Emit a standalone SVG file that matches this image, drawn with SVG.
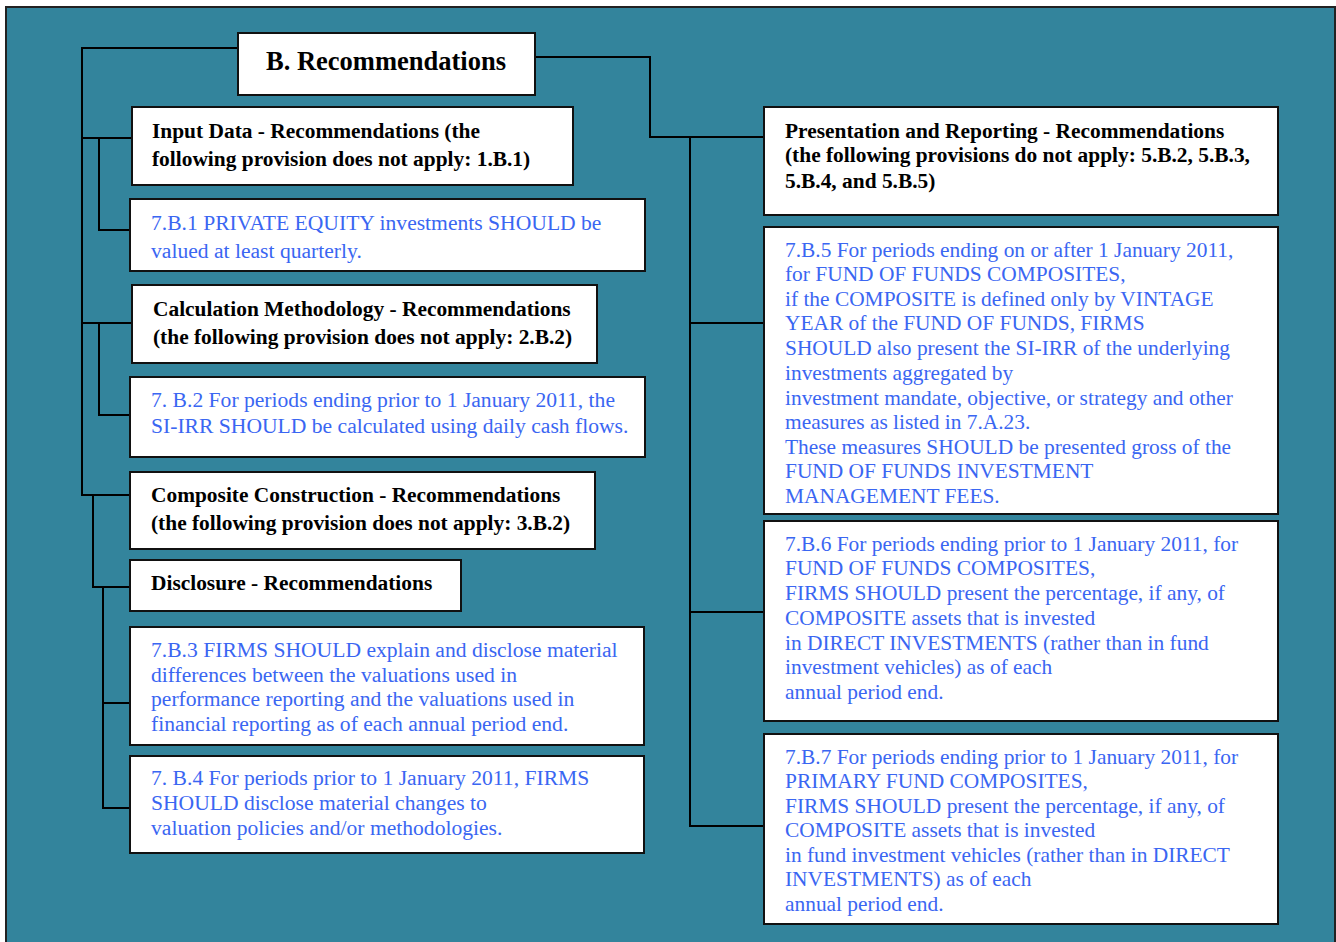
<svg xmlns="http://www.w3.org/2000/svg" width="1336" height="942" viewBox="0 0 1336 942">
<style>
.box{fill:#fff;stroke:#111;stroke-width:2}
.h{font-family:"Liberation Serif","Times New Roman",serif;font-weight:bold;font-size:21.4px;fill:#000}
.b{font-family:"Liberation Serif","Times New Roman",serif;font-size:21.6px;fill:#3a66f2}
.r{font-size:21.4px}
.c{fill:none;stroke:#000;stroke-width:2}
</style>
<rect x="0" y="0" width="1336" height="942" fill="#fff"/>
<rect x="6" y="7" width="1329" height="940" fill="#33849c" stroke="#222" stroke-width="2"/>
<g id="connectors">
<polyline class="c" points="238,48 82,48 82,495 130,495"/>
<line class="c" x1="82" y1="138" x2="132" y2="138"/>
<line class="c" x1="82" y1="323" x2="132" y2="323"/>
<polyline class="c" points="99,138 99,230 130,230"/>
<polyline class="c" points="99,323 99,415 130,415"/>
<polyline class="c" points="93,495 93,587 130,587"/>
<polyline class="c" points="103,587 103,808 130,808"/>
<line class="c" x1="103" y1="703" x2="130" y2="703"/>
<polyline class="c" points="535,57 650,57 650,137 764,137"/>
<polyline class="c" points="690,137 690,826 764,826"/>
<line class="c" x1="690" y1="323" x2="764" y2="323"/>
<line class="c" x1="690" y1="612" x2="764" y2="612"/>
</g>
<g id="root">
<rect class="box" x="238" y="33" width="297" height="62"/>
<text x="386" y="70" text-anchor="middle" style="font-family:'Liberation Serif','Times New Roman',serif;font-weight:bold;font-size:26.5px">B. Recommendations</text>
</g>
<g id="input-data">
<rect class="box" x="132" y="107" width="441" height="78"/>
<text class="h" x="152" y="138">Input Data - Recommendations (the</text>
<text class="h" x="152" y="166">following provision does not apply: 1.B.1)</text>
</g>
<g id="b1">
<rect class="box" x="130" y="199" width="515" height="72"/>
<text class="b" x="151" y="230">7.B.1 PRIVATE EQUITY investments SHOULD be</text>
<text class="b" x="151" y="258">valued at least quarterly.</text>
</g>
<g id="calc">
<rect class="box" x="132" y="285" width="465" height="78"/>
<text class="h" x="153" y="316">Calculation Methodology - Recommendations</text>
<text class="h" x="153" y="344">(the following provision does not apply: 2.B.2)</text>
</g>
<g id="b2">
<rect class="box" x="130" y="377" width="515" height="80"/>
<text class="b" x="151" y="407">7. B.2 For periods ending prior to 1 January 2011, the</text>
<text class="b" x="151" y="433">SI-IRR SHOULD be calculated using daily cash flows.</text>
</g>
<g id="composite">
<rect class="box" x="130" y="472" width="465" height="77"/>
<text class="h" x="151" y="502">Composite Construction - Recommendations</text>
<text class="h" x="151" y="530">(the following provision does not apply: 3.B.2)</text>
</g>
<g id="disclosure">
<rect class="box" x="130" y="560" width="331" height="51"/>
<text class="h" x="151" y="590">Disclosure - Recommendations</text>
</g>
<g id="b3">
<rect class="box" x="130" y="627" width="514" height="118"/>
<text class="b" x="151" y="657">7.B.3 FIRMS SHOULD explain and disclose material</text>
<text class="b" x="151" y="682">differences between the valuations used in</text>
<text class="b" x="151" y="706">performance reporting and the valuations used in</text>
<text class="b" x="151" y="731">financial reporting as of each annual period end.</text>
</g>
<g id="b4">
<rect class="box" x="130" y="756" width="514" height="97"/>
<text class="b" x="151" y="785">7. B.4 For periods prior to 1 January 2011, FIRMS</text>
<text class="b" x="151" y="810">SHOULD disclose material changes to</text>
<text class="b" x="151" y="835">valuation policies and/or methodologies.</text>
</g>
<g id="presentation">
<rect class="box" x="764" y="107" width="514" height="108"/>
<text class="h" x="785" y="138">Presentation and Reporting - Recommendations</text>
<text class="h" x="785" y="162">(the following provisions do not apply: 5.B.2, 5.B.3,</text>
<text class="h" x="785" y="188">5.B.4, and 5.B.5)</text>
</g>
<g id="b5">
<rect class="box" x="764" y="227" width="514" height="287"/>
<text class="b r" x="785" y="257">7.B.5 For periods ending on or after 1 January 2011,</text>
<text class="b r" x="785" y="281">for FUND OF FUNDS COMPOSITES,</text>
<text class="b r" x="785" y="306">if the COMPOSITE is defined only by VINTAGE</text>
<text class="b r" x="785" y="330">YEAR of the FUND OF FUNDS, FIRMS</text>
<text class="b r" x="785" y="355">SHOULD also present the SI-IRR of the underlying</text>
<text class="b r" x="785" y="380">investments aggregated by</text>
<text class="b r" x="785" y="405">investment mandate, objective, or strategy and other</text>
<text class="b r" x="785" y="429">measures as listed in 7.A.23.</text>
<text class="b r" x="785" y="454">These measures SHOULD be presented gross of the</text>
<text class="b r" x="785" y="478">FUND OF FUNDS INVESTMENT</text>
<text class="b r" x="785" y="503">MANAGEMENT FEES.</text>
</g>
<g id="b6">
<rect class="box" x="764" y="521" width="514" height="200"/>
<text class="b r" x="785" y="551">7.B.6 For periods ending prior to 1 January 2011, for</text>
<text class="b r" x="785" y="575">FUND OF FUNDS COMPOSITES,</text>
<text class="b r" x="785" y="600">FIRMS SHOULD present the percentage, if any, of</text>
<text class="b r" x="785" y="625">COMPOSITE assets that is invested</text>
<text class="b r" x="785" y="650">in DIRECT INVESTMENTS (rather than in fund</text>
<text class="b r" x="785" y="674">investment vehicles) as of each</text>
<text class="b r" x="785" y="699">annual period end.</text>
</g>
<g id="b7">
<rect class="box" x="764" y="734" width="514" height="190"/>
<text class="b r" x="785" y="764">7.B.7 For periods ending prior to 1 January 2011, for</text>
<text class="b r" x="785" y="788">PRIMARY FUND COMPOSITES,</text>
<text class="b r" x="785" y="813">FIRMS SHOULD present the percentage, if any, of</text>
<text class="b r" x="785" y="837">COMPOSITE assets that is invested</text>
<text class="b r" x="785" y="862">in fund investment vehicles (rather than in DIRECT</text>
<text class="b r" x="785" y="886">INVESTMENTS) as of each</text>
<text class="b r" x="785" y="911">annual period end.</text>
</g>
</svg>
